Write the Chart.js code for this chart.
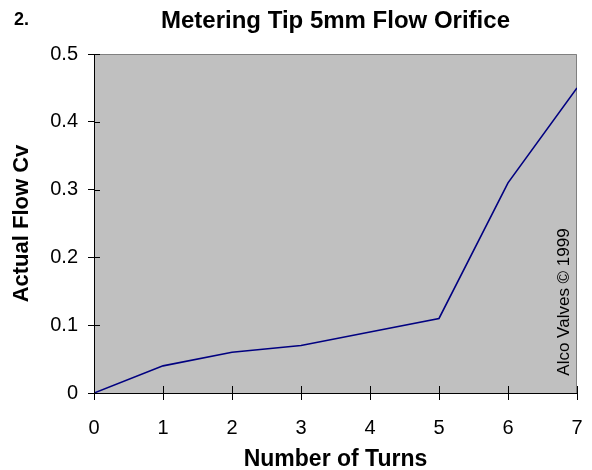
<!DOCTYPE html>
<html>
<head>
<meta charset="utf-8">
<script src="https://cdn.jsdelivr.net/npm/chart.js@4/dist/chart.umd.min.js"></script>
<style>
  html, body { margin: 0; padding: 0; background: #ffffff; }
  #wrap { width: 592px; height: 470px; position: relative; }
</style>
</head>
<body>
<div id="wrap"><canvas id="c" width="592" height="470"></canvas></div>
<script>
const turns = [0, 1, 2, 3, 4, 5, 6, 7];
const flowCv = [0, 0.04, 0.06, 0.07, 0.09, 0.11, 0.31, 0.45];
const yTicks = [0, 0.1, 0.2, 0.3, 0.4, 0.5];
const xTicks = [0, 1, 2, 3, 4, 5, 6, 7];
const chartTitle = 'Metering Tip 5mm Flow Orifice';
const chartNumber = '2.';
const xTitle = 'Number of Turns';
const yTitle = 'Actual Flow Cv';
const watermark = 'Alco Valves \u00A9 1999';

const FONT = "'Liberation Sans', Arial, Helvetica, sans-serif";

const decor = {
  id: 'decor',
  beforeDraw(chart) {
    const { ctx, chartArea: a } = chart;
    ctx.save();
    ctx.fillStyle = '#c0c0c0';
    ctx.fillRect(a.left, a.top, a.right - a.left, a.bottom - a.top);
    ctx.strokeStyle = '#808080';
    ctx.lineWidth = 1;
    ctx.beginPath();
    ctx.moveTo(a.left, a.top + 0.5);
    ctx.lineTo(a.right - 0.5, a.top + 0.5);
    ctx.lineTo(a.right - 0.5, a.bottom);
    ctx.stroke();
    ctx.restore();
  },
  afterDraw(chart) {
    const { ctx, chartArea: a, scales } = chart;
    ctx.save();
    // inner half of the crossing tick marks
    ctx.strokeStyle = '#000000';
    ctx.lineWidth = 1;
    ctx.beginPath();
    scales.x.ticks.forEach((t) => {
      const px = Math.round(scales.x.getPixelForValue(t.value)) + 0.5;
      ctx.moveTo(px, a.bottom);
      ctx.lineTo(px, a.bottom - 7);
    });
    scales.y.ticks.forEach((t) => {
      const py = Math.round(scales.y.getPixelForValue(t.value)) + 0.5;
      ctx.moveTo(a.left, py);
      ctx.lineTo(a.left + 6, py);
    });
    ctx.stroke();
    // chart number
    ctx.fillStyle = '#000000';
    ctx.font = 'bold 18px ' + FONT;
    ctx.textAlign = 'left';
    ctx.textBaseline = 'alphabetic';
    ctx.fillText(chartNumber, 14, 25);
    // rotated watermark
    ctx.font = '17px ' + FONT;
    ctx.translate(a.right - 13, 302);
    ctx.rotate(-Math.PI / 2);
    ctx.textAlign = 'center';
    ctx.textBaseline = 'middle';
    ctx.fillText(watermark, 0, 0);
    ctx.restore();
  }
};

new Chart(document.getElementById('c'), {
  type: 'line',
  data: {
    labels: turns,
    datasets: [{
      data: turns.map((t, i) => ({ x: t, y: flowCv[i] })),
      borderColor: '#000080',
      borderWidth: 1.6,
      pointRadius: 0,
      tension: 0,
      fill: false
    }]
  },
  options: {
    responsive: false,
    animation: false,
    devicePixelRatio: 1,
    layout: { padding: { left: 0, right: 15, top: 0, bottom: 0 } },
    plugins: {
      legend: { display: false },
      tooltip: { enabled: false },
      title: {
        display: true,
        text: chartTitle,
        fullSize: false,
        color: '#000000',
        font: { family: FONT, size: 24, weight: 'bold', lineHeight: 1.2 },
        padding: { top: 7, bottom: 18.2 }
      }
    },
    scales: {
      x: {
        type: 'linear',
        min: 0,
        max: 7,
        afterBuildTicks(scale) { scale.ticks = xTicks.map(v => ({ value: v })); },
        afterFit(scale) { scale.height = 470 - 393; scale.paddingRight = 0; scale.paddingLeft = 0; },
        ticks: {
          color: '#000000',
          font: { family: FONT, size: 20, lineHeight: 1.2 },
          padding: 16,
          maxRotation: 0,
          autoSkip: false,
          callback: (v) => String(v)
        },
        grid: { drawOnChartArea: false, tickLength: 7, color: '#000000' },
        border: { display: true, color: '#000000', width: 1 },
        title: {
          display: true,
          text: xTitle,
          color: '#000000',
          font: { family: FONT, size: 23, weight: 'bold', lineHeight: 0.9 },
          padding: { top: 0, bottom: 0 }
        }
      },
      y: {
        type: 'linear',
        min: 0,
        max: 0.5,
        afterBuildTicks(scale) { scale.ticks = yTicks.map(v => ({ value: v })); },
        afterFit(scale) { scale.width = 94; scale.paddingTop = 0; scale.paddingBottom = 0; },
        ticks: {
          color: '#000000',
          font: { family: FONT, size: 20 },
          padding: 10,
          autoSkip: false,
          callback: (v) => String(Math.round(v * 10) / 10)
        },
        grid: { drawOnChartArea: false, tickLength: 6, color: '#000000' },
        border: { display: true, color: '#000000', width: 1 },
        title: {
          display: true,
          text: yTitle,
          color: '#000000',
          font: { family: FONT, size: 22, weight: 'bold', lineHeight: 1.2 },
          padding: { top: 9, bottom: 0 }
        }
      }
    }
  },
  plugins: [decor]
});
</script>
</body>
</html>
